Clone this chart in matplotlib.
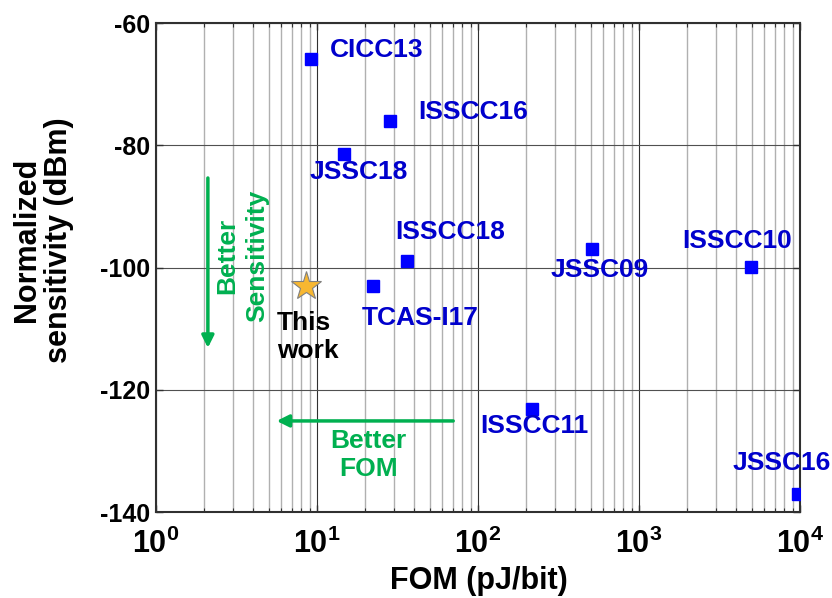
import matplotlib
matplotlib.use("Agg")
import matplotlib.pyplot as plt
from matplotlib.ticker import LogLocator, NullFormatter
import numpy as np

plt.rcParams['font.family'] = ['Liberation Sans', 'DejaVu Sans']
plt.rcParams['font.weight'] = 'bold'
plt.rcParams['mathtext.fontset'] = 'custom'
plt.rcParams['mathtext.bf'] = 'Liberation Sans:bold'
plt.rcParams['mathtext.rm'] = 'Liberation Sans:bold'

# Published works: FOM (pJ/bit) vs normalized sensitivity (dBm)
works = ['CICC13', 'ISSCC16', 'JSSC18', 'ISSCC18', 'TCAS-I17',
         'JSSC09', 'ISSCC10', 'ISSCC11', 'JSSC16']
fom = [9.2, 28.4, 14.7, 36.2, 22.3, 508, 4990, 215, 9770]
sens = [-65.9, -76.0, -81.4, -98.9, -103.0, -97.0, -99.9, -123.1, -137.1]

# This work
this_fom = 8.5
this_sens = -103.0

# where each label sits (left edge, vertical centre), in data units
label_pos = {
    'CICC13': (12.0, -64.4),
    'ISSCC16': (42.4, -74.6),
    'JSSC18': (9.05, -84.4),
    'ISSCC18': (30.5, -94.2),
    'TCAS-I17': (19.0, -108.3),
    'JSSC09': (284, -100.4),
    'ISSCC10': (1850, -95.7),
    'ISSCC11': (103, -125.9),
    'JSSC16': (3840, -132.0),
}

blue = '#0000ff'
label_blue = '#0000cc'
green = '#00b050'
fs = 19

fig = plt.figure(figsize=(8.32, 5.98), dpi=100)
ax = fig.add_axes([0.1875, 0.1438, 0.7740, 0.8177])

ax.set_xscale('log')
ax.set_xlim(1, 1e4)
ax.set_ylim(-140, -60)

# grid like the matlab one
ax.xaxis.set_minor_locator(LogLocator(base=10, subs=np.arange(2, 10)))
ax.xaxis.set_minor_formatter(NullFormatter())
ax.grid(True, which='minor', axis='x', color='#b0b0b0', lw=1.0)
ax.grid(True, which='major', axis='x', color='#303030', lw=0.8)
ax.grid(True, which='major', axis='y', color='#505050', lw=0.8)
ax.set_axisbelow(True)

ax.plot(fom, sens, 's', color=blue, ms=9, ls='none', zorder=3)
ax.plot(this_fom, this_sens, '*', ms=22, mfc='#f7b731', mec='#808080', mew=0.8, zorder=3)

for name in works:
    lx, ly = label_pos[name]
    ax.text(lx, ly, name, color=label_blue, fontsize=fs, fontweight='bold',
            ha='left', va='center')

ax.text(5.64, -111.4, 'This\nwork', color='black', fontsize=fs, fontweight='bold',
        ha='left', va='center', linespacing=1.2)

# better FOM arrow
ax.annotate('', xy=(5.4, -125.1), xytext=(73, -125.1),
            arrowprops=dict(arrowstyle='-|>', color=green, lw=2.5, mutation_scale=18))
ax.text(21.0, -130.7, 'Better\nFOM', color=green, fontsize=fs, fontweight='bold',
        ha='center', va='center', linespacing=1.2)

# better sensitivity arrow
ax.annotate('', xy=(2.1, -113.6), xytext=(2.1, -84.9),
            arrowprops=dict(arrowstyle='-|>', color=green, lw=2.5, mutation_scale=18))
ax.text(3.42, -98.1, 'Better\nSensitivity', color=green, fontsize=fs, fontweight='bold',
        ha='center', va='center', rotation=90, linespacing=1.3)

ax.set_xticks([1, 10, 100, 1000, 10000])
ax.set_xticklabels([r'$\mathbf{10^{%d}}$' % i for i in range(5)], fontsize=22)
ax.set_yticks([-140, -120, -100, -80, -60])
ax.set_yticklabels(['-140', '-120', '-100', '-80', '-60'], fontsize=18, fontweight='bold')

ax.tick_params(which='both', direction='in', top=True, right=True, color='#303030')
ax.tick_params(which='major', length=5, width=1.0)
ax.tick_params(axis='x', which='major', pad=12)
ax.tick_params(axis='y', which='major', pad=4)
ax.tick_params(which='minor', length=3, width=0.8)
for sp in ax.spines.values():
    sp.set_color('#303030')
    sp.set_linewidth(1.5)

fig.text(0.575, 0.028, 'FOM (pJ/bit)', fontsize=22, fontweight='bold',
         ha='center', va='center')
fig.text(0.052, 0.599, 'Normalized\nsensitivity (dBm)', rotation=90, fontsize=22,
         fontweight='bold', ha='center', va='center', linespacing=1.1)

fig.savefig('out.png', dpi=100)
